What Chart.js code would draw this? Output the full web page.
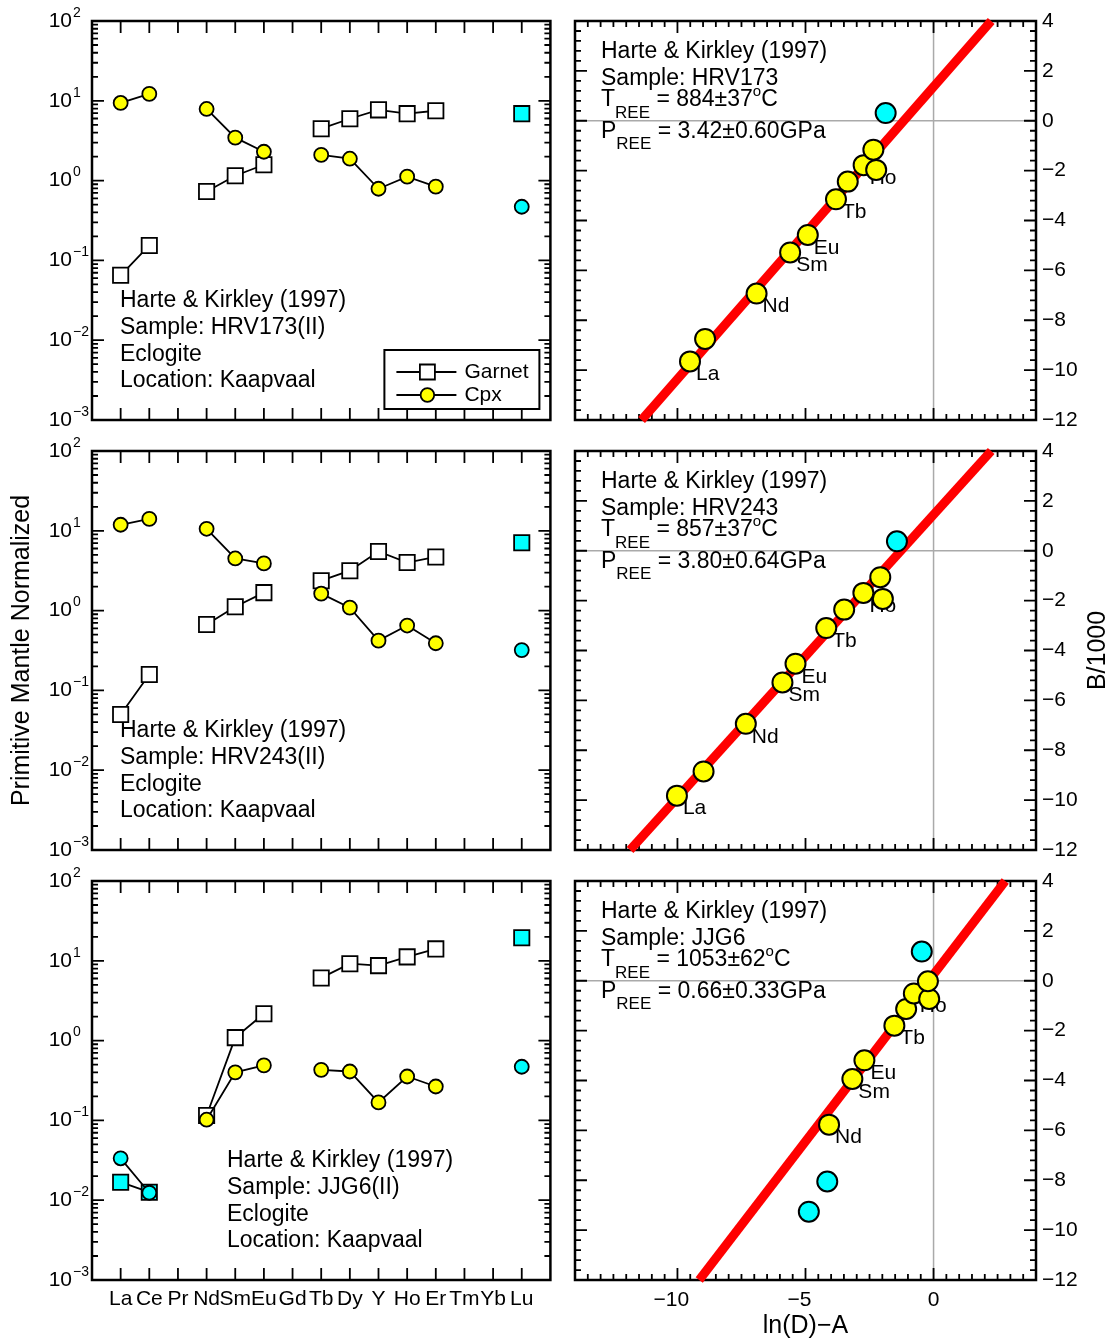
<!DOCTYPE html>
<html>
<head>
<meta charset="utf-8">
<title>REE thermometry - Harte & Kirkley (1997)</title>
<script src="https://cdn.jsdelivr.net/npm/chart.js"></script>
<style>
  html, body { margin: 0; padding: 0; background: #fff; }
  #page { position: relative; width: 1114px; height: 1342px; }
  #page canvas { position: absolute; }
</style>
</head>
<body>
<div id="page"></div>
<script>
// ---- REE patterns (primitive mantle normalized), null = not analysed ----
const elements = ['La', 'Ce', 'Pr', 'Nd', 'Sm', 'Eu', 'Gd', 'Tb', 'Dy', 'Y', 'Ho', 'Er', 'Tm', 'Yb', 'Lu'];

const garnetHRV173 = [0.065, 0.154, null, 0.73, 1.15, 1.58, null, 4.47, 5.96, 7.7, 6.9, 7.5, null, null, 6.9];
const cpxHRV173 = [9.4, 12.2, null, 7.9, 3.45, 2.3, null, 2.1, 1.88, 0.79, 1.12, 0.84, null, null, 0.47];
const garnetHRV243 = [0.05, 0.158, null, 0.67, 1.12, 1.68, null, 2.37, 3.16, 5.5, 4.0, 4.7, null, null, 7.1];
const cpxHRV243 = [11.9, 14.1, null, 10.6, 4.5, 3.9, null, 1.63, 1.09, 0.42, 0.65, 0.39, null, null, 0.32];
const garnetJJG6 = [0.0168, 0.0126, null, 0.115, 1.09, 2.17, null, 6.1, 9.2, 8.7, 11.2, 14.1, null, null, 19.4];
const cpxJJG6 = [0.0335, 0.0124, null, 0.102, 0.40, 0.49, null, 0.43, 0.41, 0.168, 0.355, 0.266, null, null, 0.47];

// elements left out of the temperature inversion (1 = excluded)
const excludedHRV173 = [0, 0, 0, 0, 0, 0, 0, 0, 0, 0, 0, 0, 0, 0, 1];
const excludedHRV243 = [0, 0, 0, 0, 0, 0, 0, 0, 0, 0, 0, 0, 0, 0, 1];
const excludedJJG6 = [1, 1, 0, 0, 0, 0, 0, 0, 0, 0, 0, 0, 0, 0, 1];

// ---- B/1000 vs ln(D)-A ----
const fitElements = ['La', 'Ce', 'Nd', 'Sm', 'Eu', 'Tb', 'Dy', 'Ho', 'Y', 'Er', 'Lu'];
const labelledElements = ['La', 'Nd', 'Sm', 'Eu', 'Tb', 'Ho'];

const lnDHRV173 = [-9.51, -8.92, -6.91, -5.60, -4.91, -3.81, -3.35, -2.73, -2.24, -2.35, -1.87];
const bHRV173 = [-9.65, -8.75, -6.93, -5.28, -4.58, -3.15, -2.44, -1.78, -1.97, -1.16, 0.31];
const usedHRV173 = [1, 1, 1, 1, 1, 1, 1, 1, 1, 1, 0];

const lnDHRV243 = [-10.02, -8.98, -7.33, -5.90, -5.39, -4.19, -3.49, -2.74, -1.98, -2.08, -1.43];
const bHRV243 = [-9.82, -8.85, -6.94, -5.28, -4.53, -3.10, -2.36, -1.69, -1.93, -1.06, 0.38];
const usedHRV243 = [1, 1, 1, 1, 1, 1, 1, 1, 1, 1, 0];

const lnDJJG6 = [-4.87, -4.15, -4.08, -3.17, -2.70, -1.53, -1.07, -0.77, -0.17, -0.22, -0.46];
const bJJG6 = [-9.26, -8.05, -5.77, -3.94, -3.19, -1.80, -1.13, -0.51, -0.73, -0.02, 1.17];
const usedJJG6 = [0, 0, 1, 1, 1, 1, 1, 1, 1, 1, 0];

// regression lines, end points at the bottom and top of the B axis
const fitLineHRV173 = [{ x: -11.4, y: -12 }, { x: 2.25, y: 4 }];
const fitLineHRV243 = [{ x: -11.85, y: -12 }, { x: 2.25, y: 4 }];
const fitLineJJG6 = [{ x: -9.15, y: -12 }, { x: 2.8, y: 4 }];

// ---- text ----
const reference = 'Harte & Kirkley (1997)';
const rock = 'Eclogite';
const locality = 'Location: Kaapvaal';
const tempHRV173 = '884±37', pressHRV173 = '3.42±0.60GPa';
const tempHRV243 = '857±37', pressHRV243 = '3.80±0.64GPa';
const tempJJG6 = '1053±62', pressJJG6 = '0.66±0.33GPa';
const lnDTicks = [-10, -5, 0];

const FONT = '"Liberation Sans", Arial, Helvetica, sans-serif';
const CYAN = '#00ffff';
const YELLOW = '#ffff00';

function font(size) {
  return size + 'px ' + FONT;
}

// writes pieces of text one after another (for sub- and superscripts)
function drawRuns(ctx, x, y, runs) {
  ctx.textAlign = 'left';
  ctx.textBaseline = 'middle';
  for (const r of runs) {
    ctx.font = font(r.size);
    ctx.fillText(r.text, x, y + (r.dy || 0));
    x += ctx.measureText(r.text).width;
  }
}

function signed(v) {
  return v < 0 ? '\u2212' + (-v) : String(v);
}

function makeCanvas(left, top, width, height) {
  const canvas = document.createElement('canvas');
  canvas.width = width;
  canvas.height = height;
  canvas.style.left = left + 'px';
  canvas.style.top = top + 'px';
  document.getElementById('page').appendChild(canvas);
  return canvas;
}

// frame, inward ticks, tick labels and notes of the REE pattern panels
const reeFrame = {
  id: 'reeFrame',
  beforeDatasetsDraw(chart, args, o) {
    const { ctx, chartArea: a } = chart;
    const x = chart.scales.x, y = chart.scales.y;
    ctx.save();
    ctx.strokeStyle = '#000';
    ctx.fillStyle = '#000';
    ctx.lineWidth = 1.8;
    ctx.beginPath();
    elements.forEach((el, i) => {
      const px = x.getPixelForValue(i + 1);
      ctx.moveTo(px, a.top); ctx.lineTo(px, a.top + 12);
      ctx.moveTo(px, a.bottom); ctx.lineTo(px, a.bottom - 12);
    });
    for (let e = -3; e < 2; e++) {
      for (let m = 1; m <= 9; m++) {
        if (e === -3 && m === 1) continue;
        const py = y.getPixelForValue(m * Math.pow(10, e));
        const len = m === 1 ? 12 : 6;
        ctx.moveTo(a.left, py); ctx.lineTo(a.left + len, py);
        ctx.moveTo(a.right, py); ctx.lineTo(a.right - len, py);
      }
    }
    ctx.stroke();
    ctx.lineWidth = 2.5;
    ctx.strokeRect(a.left, a.top, a.right - a.left, a.bottom - a.top);

    // decade labels 10^n
    for (let e = -3; e <= 2; e++) {
      const py = y.getPixelForValue(Math.pow(10, e));
      ctx.font = font(21);
      ctx.textAlign = 'right';
      ctx.textBaseline = 'middle';
      ctx.fillText('10', a.left - 20, py);
      ctx.font = font(14);
      ctx.textAlign = 'left';
      ctx.fillText(signed(e), a.left - 19, py - 8);
    }

    if (o.elementLabels) {
      ctx.font = font(21);
      ctx.textAlign = 'center';
      ctx.textBaseline = 'middle';
      elements.forEach((el, i) => ctx.fillText(el, x.getPixelForValue(i + 1), a.bottom + 19));
    }

    if (o.yTitle) {
      ctx.save();
      ctx.translate(22, (a.top + a.bottom) / 2);
      ctx.rotate(-Math.PI / 2);
      ctx.font = font(25);
      ctx.textAlign = 'center';
      ctx.textBaseline = 'middle';
      ctx.fillText(o.yTitle, 0, 0);
      ctx.restore();
    }

    ctx.font = font(23);
    ctx.textAlign = 'left';
    ctx.textBaseline = 'middle';
    o.notes.forEach((line, i) => ctx.fillText(line, a.left + o.noteX, a.top + 280 + i * 26.7));
    ctx.restore();
  },
  afterDraw(chart, args, o) {
    if (!o.legend) return;
    const { ctx, chartArea: a } = chart;
    ctx.save();
    ctx.strokeStyle = '#000';
    ctx.lineWidth = 2;
    ctx.fillStyle = '#fff';
    ctx.fillRect(a.right - 166, a.bottom - 70, 155, 59);
    ctx.strokeRect(a.right - 166, a.bottom - 70, 155, 59);
    const rows = [
      { name: 'Garnet', dy: -48, square: true },
      { name: 'Cpx', dy: -25, square: false }
    ];
    rows.forEach(r => {
      const py = a.bottom + r.dy;
      const mx = a.right - 123;
      ctx.lineWidth = 1.8;
      ctx.beginPath();
      ctx.moveTo(a.right - 154, py); ctx.lineTo(a.right - 94, py);
      ctx.stroke();
      ctx.beginPath();
      if (r.square) {
        ctx.fillStyle = '#fff';
        ctx.rect(mx - 7.5, py - 7.5, 15, 15);
      } else {
        ctx.fillStyle = YELLOW;
        ctx.arc(mx, py, 6.8, 0, Math.PI * 2);
      }
      ctx.fill();
      ctx.stroke();
      ctx.fillStyle = '#000';
      ctx.font = font(21);
      ctx.textAlign = 'left';
      ctx.textBaseline = 'middle';
      ctx.fillText(r.name, a.right - 86, py);
    });
    ctx.restore();
  }
};

// frame, zero lines, ticks, labels and notes of the B/1000 vs ln(D)-A panels
const fitFrame = {
  id: 'fitFrame',
  beforeDatasetsDraw(chart, args, o) {
    const { ctx, chartArea: a } = chart;
    const x = chart.scales.x, y = chart.scales.y;
    ctx.save();
    ctx.strokeStyle = '#aaaaaa';
    ctx.lineWidth = 1.5;
    ctx.beginPath();
    const x0 = x.getPixelForValue(0), y0 = y.getPixelForValue(0);
    ctx.moveTo(x0, a.top); ctx.lineTo(x0, a.bottom);
    ctx.moveTo(a.left, y0); ctx.lineTo(a.right, y0);
    ctx.stroke();

    ctx.strokeStyle = '#000';
    ctx.fillStyle = '#000';
    ctx.lineWidth = 1.8;
    ctx.beginPath();
    for (let k = 1; k < 36; k++) {
      const v = -14 + k * 0.5;
      const len = v % 5 === 0 ? 12 : 6;
      const px = x.getPixelForValue(v);
      ctx.moveTo(px, a.top); ctx.lineTo(px, a.top + len);
      ctx.moveTo(px, a.bottom); ctx.lineTo(px, a.bottom - len);
    }
    for (let k = 1; k < 40; k++) {
      const len = k % 5 === 0 ? 12 : 6;
      const py = y.getPixelForValue(-12 + k * 0.4);
      ctx.moveTo(a.left, py); ctx.lineTo(a.left + len, py);
      ctx.moveTo(a.right, py); ctx.lineTo(a.right - len, py);
    }
    ctx.stroke();
    ctx.lineWidth = 2.5;
    ctx.strokeRect(a.left, a.top, a.right - a.left, a.bottom - a.top);

    ctx.font = font(21);
    ctx.textAlign = 'left';
    ctx.textBaseline = 'middle';
    for (let v = -12; v <= 4; v += 2) {
      ctx.fillText(signed(v), a.right + 6, y.getPixelForValue(v));
    }

    if (o.xLabels) {
      lnDTicks.forEach(v => {
        const px = x.getPixelForValue(v);
        const digits = String(Math.abs(v));
        ctx.textAlign = 'center';
        ctx.fillText(digits, px, a.bottom + 20);
        if (v < 0) {
          ctx.textAlign = 'right';
          ctx.fillText('\u2212', px - ctx.measureText(digits).width / 2, a.bottom + 20);
        }
      });
      ctx.font = font(25);
      ctx.textAlign = 'center';
      ctx.fillText('ln(D)\u2212A', (a.left + a.right) / 2, a.bottom + 46);
    }

    if (o.yTitle) {
      ctx.save();
      ctx.translate(a.right + 62, (a.top + a.bottom) / 2);
      ctx.rotate(-Math.PI / 2);
      ctx.font = font(25);
      ctx.textAlign = 'center';
      ctx.textBaseline = 'middle';
      ctx.fillText(o.yTitle, 0, 0);
      ctx.restore();
    }

    const tx = a.left + 26;
    drawRuns(ctx, tx, a.top + 31, [{ text: reference, size: 23 }]);
    drawRuns(ctx, tx, a.top + 58, [{ text: 'Sample: ' + o.sample, size: 23 }]);
    drawRuns(ctx, tx, a.top + 79, [
      { text: 'T', size: 23 }, { text: 'REE', size: 17, dy: 13 },
      { text: ' = ' + o.temp, size: 23 }, { text: 'o', size: 15, dy: -8 }, { text: 'C', size: 23 }
    ]);
    drawRuns(ctx, tx, a.top + 111, [
      { text: 'P', size: 23 }, { text: 'REE', size: 17, dy: 12 },
      { text: ' = ' + o.press, size: 23 }
    ]);
    ctx.restore();
  },
  // element names go above the fit line but beneath the symbols
  afterDatasetDraw(chart, args, o) {
    if (args.index !== 1) return;
    const { ctx } = chart;
    const meta = chart.getDatasetMeta(0);
    const used = chart.data.datasets[0].used;
    ctx.save();
    ctx.fillStyle = '#000';
    ctx.font = font(21);
    ctx.textAlign = 'left';
    ctx.textBaseline = 'middle';
    meta.data.forEach((pt, i) => {
      if (used[i] && labelledElements.includes(fitElements[i])) {
        ctx.fillText(fitElements[i], pt.x + 6, pt.y + 13);
      }
    });
    ctx.restore();
  }
};

const rows = [
  { top: 0, height: 436, padTop: 21, padBottom: 16 },
  { top: 436, height: 430, padTop: 15, padBottom: 16 },
  { top: 866, height: 476, padTop: 15, padBottom: 62 }
];

function reePanel(row, garnet, cpx, excluded, extra) {
  const r = rows[row];
  const canvas = makeCanvas(0, r.top, 563, r.height);
  const toXY = vals => vals.map((v, i) => ({ x: i + 1, y: v }));
  return new Chart(canvas.getContext('2d'), {
    type: 'line',
    data: {
      datasets: [
        {
          label: 'Cpx',
          data: toXY(cpx),
          borderColor: '#000',
          borderWidth: 1.8,
          pointStyle: 'circle',
          pointRadius: 7,
          pointBorderWidth: 1.8,
          pointBorderColor: '#000',
          pointBackgroundColor: excluded.map(e => e ? CYAN : YELLOW)
        },
        {
          label: 'Garnet',
          data: toXY(garnet),
          borderColor: '#000',
          borderWidth: 1.8,
          pointStyle: 'rect',
          pointRadius: 10.8,
          pointBorderWidth: 1.8,
          pointBorderColor: '#000',
          pointBackgroundColor: excluded.map(e => e ? CYAN : '#fff')
        }
      ]
    },
    options: {
      responsive: false,
      animation: false,
      events: [],
      layout: { padding: { left: 92, right: 11, top: r.padTop, bottom: r.padBottom } },
      plugins: {
        legend: { display: false },
        tooltip: { enabled: false },
        reeFrame: extra
      },
      scales: {
        x: { type: 'linear', min: 0, max: 16, display: false },
        y: { type: 'logarithmic', min: 0.001, max: 100, display: false }
      }
    },
    plugins: [reeFrame]
  });
}

function fitPanel(row, lnD, b, used, fitLine, extra) {
  const r = rows[row];
  const canvas = makeCanvas(563, r.top, 551, r.height);
  return new Chart(canvas.getContext('2d'), {
    type: 'scatter',
    data: {
      datasets: [
        {
          label: 'REE',
          data: lnD.map((v, i) => ({ x: v, y: b[i] })),
          used: used,
          pointRadius: 10,
          pointBorderWidth: 2,
          pointBorderColor: '#000',
          pointBackgroundColor: used.map(u => u ? YELLOW : CYAN),
          showLine: false
        },
        {
          label: 'fit',
          data: fitLine,
          showLine: true,
          borderColor: '#ff0000',
          borderWidth: 9,
          pointRadius: 0,
          clip: false
        }
      ]
    },
    options: {
      responsive: false,
      animation: false,
      events: [],
      layout: { padding: { left: 12, right: 78, top: r.padTop, bottom: r.padBottom } },
      plugins: {
        legend: { display: false },
        tooltip: { enabled: false },
        fitFrame: extra
      },
      scales: {
        x: { type: 'linear', min: -14, max: 4, display: false },
        y: { type: 'linear', min: -12, max: 4, display: false }
      }
    },
    plugins: [fitFrame]
  });
}

reePanel(0, garnetHRV173, cpxHRV173, excludedHRV173, {
  notes: [reference, 'Sample: HRV173(II)', rock, locality], noteX: 28, legend: true
});
reePanel(1, garnetHRV243, cpxHRV243, excludedHRV243, {
  notes: [reference, 'Sample: HRV243(II)', rock, locality], noteX: 28,
  yTitle: 'Primitive Mantle Normalized'
});
reePanel(2, garnetJJG6, cpxJJG6, excludedJJG6, {
  notes: [reference, 'Sample: JJG6(II)', rock, locality], noteX: 135, elementLabels: true
});

fitPanel(0, lnDHRV173, bHRV173, usedHRV173, fitLineHRV173, {
  sample: 'HRV173', temp: tempHRV173, press: pressHRV173
});
fitPanel(1, lnDHRV243, bHRV243, usedHRV243, fitLineHRV243, {
  sample: 'HRV243', temp: tempHRV243, press: pressHRV243, yTitle: 'B/1000'
});
fitPanel(2, lnDJJG6, bJJG6, usedJJG6, fitLineJJG6, {
  sample: 'JJG6', temp: tempJJG6, press: pressJJG6, xLabels: true
});
</script>
</body>
</html>
